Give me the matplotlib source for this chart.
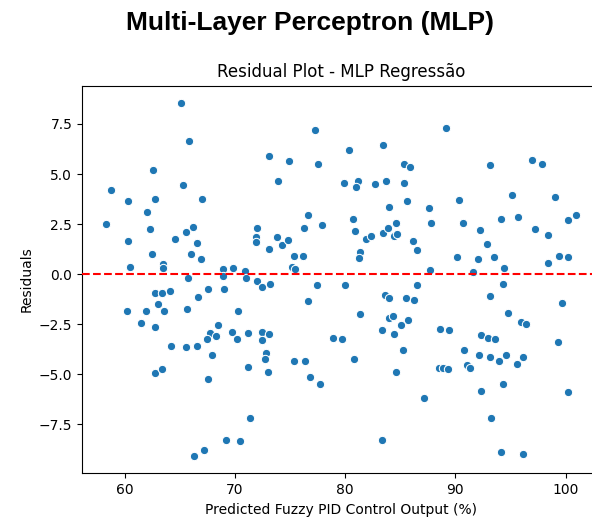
import matplotlib
matplotlib.use("Agg")
import matplotlib.pyplot as plt

# valores previstos pelo MLP (saida do controlador fuzzy PID, %) e residuos
predicted = [
    65.09, 65.84, 62.61, 65.30, 58.75, 60.29, 62.73, 66.99, 62.07, 58.27,
    62.34, 66.17, 65.57, 60.29, 64.54, 66.53, 62.52, 66.05, 66.90, 63.49,
    63.49, 60.47, 65.75, 68.89, 68.89, 69.85, 70.88, 71.00, 72.03, 72.03,
    71.90, 71.90,
    77.24, 73.08, 74.95, 77.51, 73.89, 80.32, 83.48, 79.90, 81.19, 81.01,
    82.73, 83.67, 85.36, 85.87, 85.36, 85.66, 83.94, 76.64, 76.28, 77.87,
    80.74, 80.92, 73.80, 74.29, 74.86, 73.14, 75.34, 76.15, 75.19, 75.43,
    81.92, 82.34, 83.48, 83.85, 84.61, 84.45, 84.72, 81.38, 81.29, 86.20,
    86.51,
    72.48, 73.17, 77.42, 79.99, 86.51, 76.64, 81.38, 83.64, 83.94, 85.54,
    86.29, 83.94, 84.33, 85.75, 83.37, 85.09, 84.48, 85.29, 84.61, 72.48,
    73.08, 72.48, 72.84, 72.75, 73.05, 75.34, 76.40, 76.82, 77.69, 78.93,
    79.68, 80.83, 83.37,
    62.77, 63.37, 64.12, 66.62, 67.56, 68.98, 60.26, 61.98, 63.00, 63.61,
    65.66, 70.31, 61.49, 62.73, 68.49, 67.74, 68.25, 67.47, 69.73, 70.21,
    71.18, 64.24, 65.57, 66.60, 67.95, 71.18, 62.73, 63.39, 67.56, 71.36,
    69.16, 70.43, 67.17, 66.33,
    89.16, 96.94, 97.87, 93.14, 95.13, 99.00, 90.31, 87.59, 87.83, 90.67,
    94.16, 95.67, 100.26, 100.99, 92.27, 97.21, 98.45, 92.84, 90.12, 92.08,
    93.53, 94.38, 98.45, 99.38, 100.26, 87.68, 91.60, 94.29,
    93.14, 94.74, 95.95, 96.37, 99.68, 88.59, 89.46, 92.35, 92.93, 93.62,
    90.76, 92.17, 93.14, 93.98, 94.56, 96.10, 95.58, 99.29, 88.50, 88.90,
    89.37, 91.06, 91.33, 94.29, 92.35, 100.26, 87.17, 93.23, 94.16, 96.10,
]
residuals = [
    8.54, 6.63, 5.21, 4.44, 4.18, 3.66, 3.76, 3.76, 3.08, 2.51,
    2.24, 2.34, 2.09, 1.66, 1.78, 1.56, 1.03, 1.03, 0.78, 0.53,
    0.33, 0.36, -0.17, 0.26, -0.07, 0.31, 0.18, -0.17, -0.34, 2.29,
    1.85, 1.60,
    7.18, 5.91, 5.64, 5.49, 4.64, 6.18, 6.44, 4.54, 4.66, 4.34,
    4.49, 4.64, 5.49, 5.34, 4.54, 3.66, 3.34, 2.93, 2.29, 2.44,
    2.76, 2.13, 1.83, 1.44, 1.73, 1.24, 0.93, 0.93, 0.38, 0.26,
    1.78, 1.91, 2.03, 2.29, 2.56, 1.88, 1.98, 1.13, 0.83, 1.66,
    1.19,
    -0.66, -0.49, -0.54, -0.54, -0.54, -1.32, -2.01, -1.04, -1.17, -1.17,
    -1.27, -2.17, -2.11, -2.27, -2.79, -2.52, -3.01, -3.79, -4.89, -2.89,
    -3.01, -3.31, -3.94, -4.26, -4.89, -4.32, -4.36, -5.14, -5.47, -3.21,
    -3.26, -4.26, -8.29,
    -0.96, -0.96, -0.86, -1.12, -0.74, -0.74, -1.86, -1.86, -1.47, -1.86,
    -1.74, -1.86, -2.42, -2.64, -2.52, -2.92, -3.11, -3.26, -2.91, -3.26,
    -2.94, -3.59, -3.64, -3.59, -4.06, -4.62, -4.96, -4.72, -5.26, -7.19,
    -8.29, -8.34, -8.79, -9.07,
    7.28, 5.69, 5.49, 5.44, 3.93, 3.86, 3.71, 3.29, 2.56, 2.56,
    2.76, 2.86, 2.71, 2.93, 2.19, 2.24, 1.93, 1.51, 0.88, 0.78,
    0.88, 0.31, 0.56, 0.93, 0.88, 0.21, 0.11, -0.51,
    -1.11, -1.96, -2.37, -2.49, -1.42, -2.76, -2.79, -3.06, -3.19, -3.22,
    -3.79, -4.06, -4.16, -4.36, -4.06, -4.16, -4.47, -3.37, -4.67, -4.69,
    -4.74, -4.52, -4.69, -5.47, -5.84, -5.89, -6.21, -7.19, -8.87, -8.97,
]

fig = plt.figure(figsize=(5.92, 5.21), dpi=100)
ax = fig.add_axes([0.1385, 0.0915, 0.875, 0.7443])

ax.scatter(predicted, residuals, s=36, color="#1f77b4",
           edgecolors="white", linewidths=0.75, zorder=2)
ax.axhline(0, color="red", linestyle="--", linewidth=1.5, zorder=3)

ax.set_title("Residual Plot - MLP Regressão", fontsize=12)
ax.set_xlabel("Predicted Fuzzy PID Control Output (%)")
ax.set_ylabel("Residuals")
ax.set_xticks([60, 70, 80, 90, 100])
ax.set_yticks([-7.5, -5.0, -2.5, 0.0, 2.5, 5.0, 7.5])

fig.text(0.524, 0.955, "Multi-Layer Perceptron (MLP)", ha="center", va="center",
         fontsize=19, fontweight="bold", family="Liberation Sans")

fig.savefig("out.png", dpi=100)
